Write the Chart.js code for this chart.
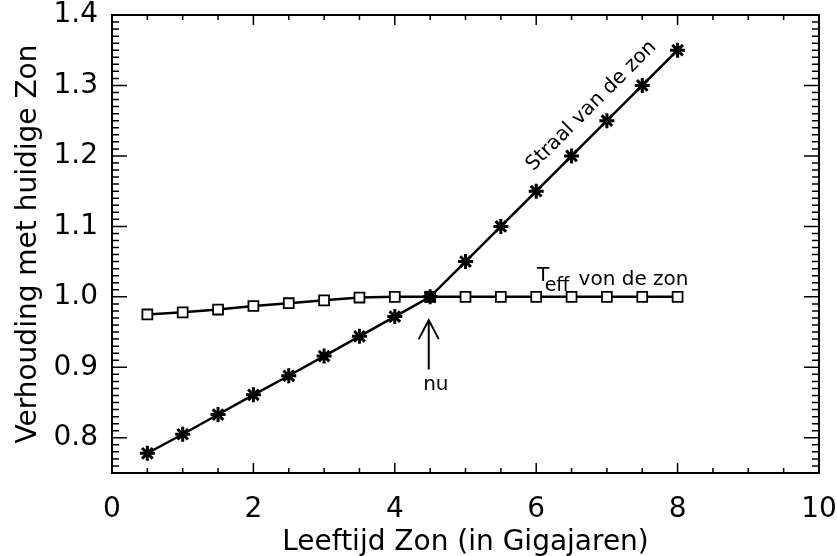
<!DOCTYPE html>
<html>
<head>
<meta charset="utf-8">
<script src="https://cdn.jsdelivr.net/npm/chart.js@4/dist/chart.umd.min.js"></script>
<style>
  html, body { margin: 0; padding: 0; background: #fff; }
  #wrap { width: 837px; height: 556px; }
</style>
</head>
<body>
<div id="wrap"><canvas id="zonChart"></canvas></div>
<script>
// Age of the sun (Gyr)
const ages = [0.5, 1, 1.5, 2, 2.5, 3, 3.5, 4, 4.5, 5, 5.5, 6, 6.5, 7, 7.5, 8];
// radius relative to today
const straal = [0.778, 0.805, 0.833, 0.861, 0.888, 0.916, 0.944, 0.972, 1.0, 1.05, 1.10, 1.15, 1.20, 1.25, 1.30, 1.35];
// effective temperature relative to today
const teff = [0.975, 0.978, 0.982, 0.987, 0.991, 0.995, 0.999, 1.0, 1.0, 1.0, 1.0, 1.0, 1.0, 1.0, 1.0, 1.0];

const xTicks = [0, 2, 4, 6, 8, 10];
const yTicks = [0.8, 0.9, 1.0, 1.1, 1.2, 1.3, 1.4];

const FONT = '"DejaVu Sans", sans-serif';

// frame, inward ticks (major + minor) and labels in the plot
const idlPlot = {
    id: 'idlPlot',
    afterDatasetsDraw(chart) {
        const { ctx, chartArea: a, scales: { x, y } } = chart;
        ctx.save();
        ctx.strokeStyle = '#000';
        ctx.lineWidth = 2;
        ctx.strokeRect(a.left, a.top, a.right - a.left, a.bottom - a.top);

        ctx.beginPath();
        for (let v = 0; v <= 10.001; v += 0.5) {
            const px = x.getPixelForValue(v);
            const len = Math.abs(v / 2 - Math.round(v / 2)) < 1e-6 ? 10 : 5;
            ctx.moveTo(px, a.bottom); ctx.lineTo(px, a.bottom - len);
            ctx.moveTo(px, a.top); ctx.lineTo(px, a.top + len);
        }
        for (let i = 75; i <= 140; i++) {
            const v = i / 100;
            const py = y.getPixelForValue(v);
            const len = i % 10 === 0 ? 15 : 7;
            ctx.moveTo(a.left, py); ctx.lineTo(a.left + len, py);
            ctx.moveTo(a.right, py); ctx.lineTo(a.right - len, py);
        }
        ctx.lineWidth = 1.5;
        ctx.stroke();

        // "Straal van de zon" along the radius line
        ctx.fillStyle = '#000';
        ctx.font = '20px ' + FONT;
        ctx.save();
        ctx.translate(x.getPixelForValue(6.78), y.getPixelForValue(1.271));
        ctx.rotate(-Math.PI / 4);
        ctx.textAlign = 'center';
        ctx.textBaseline = 'middle';
        ctx.fillText('Straal van de zon', 0, 0);
        ctx.restore();

        // T_eff label
        ctx.textAlign = 'left';
        ctx.textBaseline = 'alphabetic';
        ctx.fillText('T', x.getPixelForValue(6.01), y.getPixelForValue(1.023));
        ctx.font = '19px ' + FONT;
        ctx.fillText('eff', x.getPixelForValue(6.12), y.getPixelForValue(1.0086));
        ctx.font = '20px ' + FONT;
        ctx.fillText('von de zon', x.getPixelForValue(6.6), y.getPixelForValue(1.017));

        // "nu" arrow
        const ax = x.getPixelForValue(4.48);
        const top = y.getPixelForValue(0.967);
        const bot = y.getPixelForValue(0.897);
        ctx.beginPath();
        ctx.moveTo(ax, bot); ctx.lineTo(ax, top);
        ctx.moveTo(ax - 10, top + 19); ctx.lineTo(ax, top); ctx.lineTo(ax + 10, top + 19);
        ctx.lineWidth = 2;
        ctx.stroke();
        ctx.textAlign = 'center';
        ctx.fillText('nu', x.getPixelForValue(4.58), y.getPixelForValue(0.868));
        ctx.restore();
    }
};

new Chart(document.getElementById('zonChart'), {
    type: 'scatter',
    data: {
        datasets: [{
            label: 'Straal',
            data: ages.map((a, i) => ({ x: a, y: straal[i] })),
            showLine: true,
            borderColor: '#000',
            borderWidth: 2.5,
            pointStyle: 'star',
            pointRadius: 7.5,
            pointBorderWidth: 3,
            pointBorderColor: '#000',
            pointBackgroundColor: '#000'
        }, {
            label: 'Teff',
            data: ages.map((a, i) => ({ x: a, y: teff[i] })),
            showLine: true,
            borderColor: '#000',
            borderWidth: 2.5,
            pointStyle: 'rect',
            pointRadius: 7,
            pointBorderWidth: 1.8,
            pointBorderColor: '#000',
            pointBackgroundColor: '#fff'
        }]
    },
    options: {
        responsive: true,
        maintainAspectRatio: false,
        animation: false,
        layout: { padding: { top: 15, right: 18, left: 0, bottom: 0 } },
        plugins: { legend: { display: false }, tooltip: { enabled: false } },
        scales: {
            x: {
                type: 'linear',
                min: 0, max: 10,
                grid: { display: false },
                border: { display: false },
                afterBuildTicks: s => { s.ticks = xTicks.map(v => ({ value: v })); },
                afterFit: s => { s.height = 83; s.paddingLeft = 0; s.paddingRight = 0; },
                ticks: {
                    color: '#000', padding: 12,
                    font: { family: FONT, size: 28 },
                    maxRotation: 0,
                    callback: v => String(v)
                },
                title: {
                    display: true, text: 'Leeftijd Zon (in Gigajaren)',
                    color: '#000', font: { family: FONT, size: 28 },
                    padding: { top: 0, bottom: -4 }
                }
            },
            y: {
                type: 'linear',
                min: 0.75, max: 1.4,
                grid: { display: false },
                border: { display: false },
                afterBuildTicks: s => { s.ticks = yTicks.map(v => ({ value: v })); },
                afterFit: s => { s.width = 112; s.paddingTop = 0; s.paddingBottom = 0; },
                ticks: {
                    color: '#000', padding: 6,
                    font: { family: FONT, size: 28 },
                    callback: v => v.toFixed(1)
                },
                title: {
                    display: true, text: 'Verhouding met huidige Zon',
                    color: '#000', font: { family: FONT, size: 28 },
                    padding: { top: 12, bottom: 0 }
                }
            }
        }
    },
    plugins: [idlPlot]
});
</script>
</body>
</html>
